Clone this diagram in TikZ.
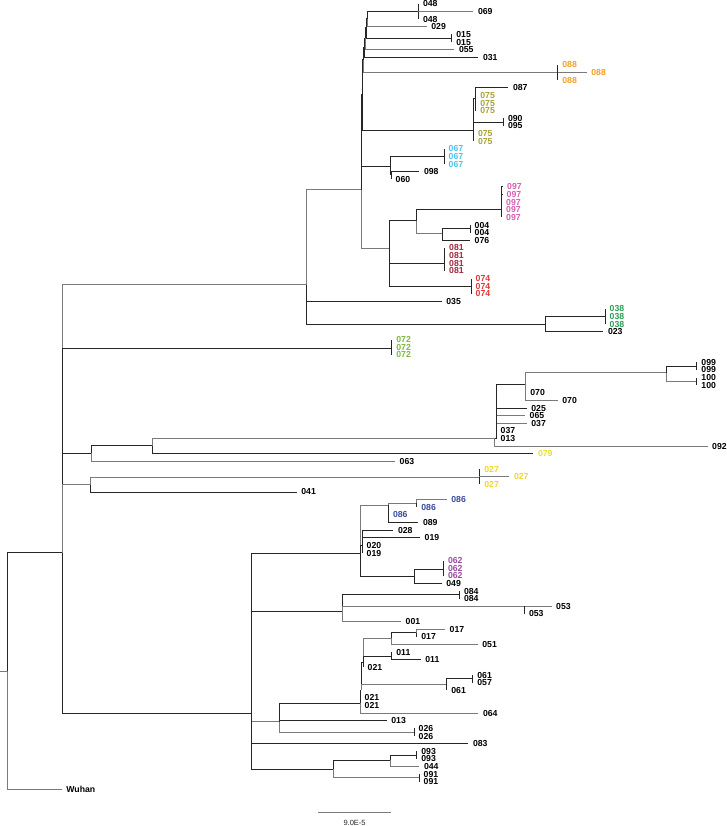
\documentclass[tikz,border=0pt]{standalone}
\usepackage{fontspec}
\setmainfont{Liberation Sans}
\definecolor{brc}{HTML}{262626}
\definecolor{brg}{HTML}{7A7A7A}
\definecolor{c088}{HTML}{F0A02A}
\definecolor{c075}{HTML}{A8A232}
\definecolor{c067}{HTML}{4CC3EA}
\definecolor{c097}{HTML}{D65FB4}
\definecolor{c081}{HTML}{A3283F}
\definecolor{c074}{HTML}{E0373A}
\definecolor{c038}{HTML}{2E9E55}
\definecolor{c072}{HTML}{7CBA3C}
\definecolor{c079}{HTML}{E8E02E}
\definecolor{c027}{HTML}{F2D52A}
\definecolor{c086}{HTML}{3B4A9C}
\definecolor{c062}{HTML}{9B4BA5}
\tikzset{
  br/.style={draw=brc, line width=1pt},
  gb/.style={draw=brg},
  lbl/.style={font=\fontsize{8.7}{9}\selectfont\bfseries, inner sep=0pt, anchor=west},
  sbl/.style={font=\fontsize{7.5}{8}\selectfont, text=brc, inner sep=0pt}
}
\newcommand{\tnode}[5][]{\coordinate (#2) at (#4,#5); \draw[br,#1] (#3) |- (#2);}
\newcommand{\tleaf}[6][]{\coordinate (#2) at (#4,#5); \draw[br,#1] (#3) |- (#2); \node[lbl,text=black] (#2t) at ([xshift=4.5pt]#2) {#6};}
\newcommand{\cleaf}[7][]{\coordinate (#3) at (#5,#6); \draw[br,#1] (#4) |- (#3); \node[lbl,text=#2] (#3t) at ([xshift=4.5pt]#3) {#7};}
\begin{document}
\begin{tikzpicture}[x=1pt,y=-1pt]
\useasboundingbox (0,0) rectangle (727,826);
% root
\coordinate (stem) at (0,671);
\coordinate (root) at (7.3,671);
\draw[br,gb] (stem) -- (root);
\tnode{M}{root}{62.7}{552.7}
\tleaf[gb]{k104}{root}{61.7}{789.4}{Wuhan}
% main clade children
\tnode[gb]{T}{M}{306.7}{284.7}
\tnode{n072}{M}{391.7}{348.3}
\tnode{G92}{M}{91.3}{453.3}
\tnode[gb]{G27}{M}{90}{484.7}
\tnode{L}{M}{251}{713.2}
% ---- top clade
\tnode[gb]{U}{T}{361.7}{190}
\tleaf{k40}{T}{441.7}{301.4}{035}
\tnode{n38}{T}{545.7}{324}
\tnode{n38a}{n38}{605}{316.6}
\cleaf{c038}{k41}{n38a}{605}{309.0}{038}
\cleaf{c038}{k42}{n38a}{605}{316.6}{038}
\cleaf{c038}{k43}{n38a}{605}{324.3}{038}
\tleaf{k44}{n38}{603.3}{331.9}{023}
\tnode{b}{U}{362.5}{95}
\tnode{a5}{b}{363.3}{60}
\tnode{a4}{a5}{364.3}{47.5}
\tnode{a3}{a4}{365}{38.5}
\tnode{a2}{a3}{366}{28}
\tnode{a1}{a2}{367}{19}
\tnode{n048}{a1}{418.3}{11.6}
\tleaf{k1}{n048}{418.3}{4.0}{048}
\tleaf[gb]{k2}{n048}{473.3}{11.6}{069}
\tleaf{k3}{n048}{418.3}{19.3}{048}
\tleaf[gb]{k4}{a1}{426.7}{26.9}{029}
\tnode{n015}{a2}{451.7}{38.3}
\tleaf{k5}{n015}{451.7}{34.5}{015}
\tleaf{k6}{n015}{451.7}{42.1}{015}
\tleaf[gb]{k7}{a3}{454.3}{49.8}{055}
\tleaf{k8}{a4}{478.3}{57.4}{031}
\tnode[gb]{n088}{a5}{557.7}{72.6}
\cleaf{c088}{k9}{n088}{557.7}{65.0}{088}
\cleaf[gb]{c088}{k10}{n088}{586.7}{72.6}{088}
\cleaf{c088}{k11}{n088}{557.7}{80.3}{088}
% 075 clade
\tnode{V}{b}{473.3}{131}
\tnode{v1}{V}{475.7}{99}
\tleaf{k12}{v1}{508.3}{87.9}{087}
\cleaf{c075}{k13}{v1}{475.7}{95.5}{075}
\cleaf{c075}{k14}{v1}{475.7}{103.1}{075}
\cleaf{c075}{k15}{v1}{475.7}{110.8}{075}
\tnode{n090}{V}{503.3}{122.2}
\tleaf{k16}{n090}{503.3}{118.4}{090}
\tleaf{k17}{n090}{503.3}{126.0}{095}
\cleaf{c075}{k18}{V}{473.3}{133.6}{075}
\cleaf{c075}{k19}{V}{473.3}{141.3}{075}
% 067 clade
\tnode{W}{U}{390}{166.3}
\tnode{n067}{W}{444}{157}
\cleaf{c067}{k20}{n067}{444}{148.9}{067}
\cleaf{c067}{k21}{n067}{444}{156.5}{067}
\cleaf{c067}{k22}{n067}{444}{164.1}{067}
\tnode{w2}{W}{391}{175}
\tleaf{k23}{w2}{419.3}{171.8}{098}
\tleaf{k24}{w2}{391}{179.4}{060}
% 097 / 081 / 074 clade
\tnode[gb]{X}{U}{389.3}{248.3}
\tnode{x1}{X}{416}{221}
\tnode{n097}{x1}{501.5}{209.3}
\cleaf{c097}{k25}{n097}{502.5}{187.0}{097}
\cleaf{c097}{k26}{n097}{502}{194.6}{097}
\cleaf{c097}{k27}{n097}{501.5}{202.3}{097}
\cleaf{c097}{k28}{n097}{501.5}{209.9}{097}
\cleaf{c097}{k29}{n097}{501.5}{217.5}{097}
\tnode[gb]{x1b}{x1}{442.7}{233.3}
\tnode{n004}{x1b}{470}{228.5}
\tleaf{k30}{n004}{470}{225.1}{004}
\tleaf{k31}{n004}{470}{232.8}{004}
\tleaf{k32}{x1b}{470}{240.4}{076}
\tnode{n081}{X}{444.5}{263.3}
\cleaf{c081}{k33}{n081}{444.5}{248.0}{081}
\cleaf{c081}{k34}{n081}{444.5}{255.6}{081}
\cleaf{c081}{k35}{n081}{444.5}{263.3}{081}
\cleaf{c081}{k36}{n081}{444.5}{270.9}{081}
\tnode{n074}{X}{471}{286.7}
\cleaf{c074}{k37}{n074}{471}{278.5}{074}
\cleaf{c074}{k38}{n074}{471}{286.1}{074}
\cleaf{c074}{k39}{n074}{471}{293.8}{074}
% 072
\cleaf{c072}{k45}{n072}{391.7}{339.5}{072}
\cleaf{c072}{k46}{n072}{391.7}{347.1}{072}
\cleaf{c072}{k47}{n072}{391.7}{354.8}{072}
% ---- 092 group
\tnode{H}{G92}{152.3}{445.7}
\tleaf[gb]{k61}{G92}{395}{461.5}{063}
\tnode[gb]{A}{H}{494.7}{438.6}
\cleaf{c079}{k60}{H}{533.3}{453.9}{079}
\tleaf[gb]{k59}{A}{707.5}{446.3}{092}
\tnode{B}{A}{496}{438.6}
\tleaf{k58}{B}{496}{438.6}{013}
\tleaf{k57}{B}{496}{431.0}{037}
\tleaf[gb]{k56}{B}{526.7}{423.4}{037}
\tleaf[gb]{k55}{B}{525}{415.8}{065}
\tleaf{k54}{B}{526.7}{408.1}{025}
\tnode{E}{B}{525.7}{384.3}
\tleaf{k52}{E}{525.7}{392.9}{070}
\tleaf[gb]{k53}{E}{557.7}{400.5}{070}
\tnode[gb]{F}{E}{666.7}{372.7}
\tnode{n099}{F}{696.7}{366.2}
\tleaf{k48}{n099}{696.7}{362.4}{099}
\tleaf{k49}{n099}{696.7}{370.0}{099}
\tnode[gb]{n100}{F}{696.7}{381.5}
\tleaf{k50}{n100}{696.7}{377.6}{100}
\tleaf{k51}{n100}{696.7}{385.3}{100}
% ---- 027 / 041
\tnode[gb]{n027}{G27}{479.7}{477}
\cleaf{c027}{k62}{n027}{479.7}{469.1}{027}
\cleaf[gb]{c027}{k63}{n027}{509.3}{476.8}{027}
\cleaf{c027}{k64}{n027}{479.7}{484.4}{027}
\tleaf{k65}{G27}{296.7}{492.0}{041}
% ---- lower clade
\tnode{P}{L}{360}{553.3}
\tnode[gb]{p1}{P}{388.3}{505}
\tnode[gb]{p1a}{p1}{416.7}{503}
\cleaf[gb]{c086}{k66}{p1a}{446.7}{499.6}{086}
\cleaf{c086}{k67}{p1a}{416.7}{507.3}{086}
\cleaf{c086}{k68}{p1}{388.3}{514.9}{086}
\tleaf{k69}{p1}{418.3}{522.5}{089}
\tnode{Pb}{P}{362}{545.4}
\tleaf{k70}{Pb}{393.3}{530.1}{028}
\tleaf{k71}{Pb}{420}{537.8}{019}
\tleaf{k72}{Pb}{362}{545.4}{020}
\tleaf{k73}{Pb}{362}{553.0}{019}
\tnode{p2}{P}{414}{576.7}
\tnode{n062}{p2}{443.3}{569.3}
\cleaf{c062}{k74}{n062}{443.3}{560.6}{062}
\cleaf{c062}{k75}{n062}{443.3}{568.3}{062}
\cleaf{c062}{k76}{n062}{443.3}{575.9}{062}
\tleaf{k77}{p2}{441.7}{583.5}{049}
\tnode{Q}{L}{342.7}{611}
\tnode{n084}{Q}{459.3}{594.9}
\tleaf{k78}{n084}{459.3}{591.1}{084}
\tleaf{k79}{n084}{459.3}{598.8}{084}
\tnode[gb]{n053}{Q}{524.3}{606.4}
\tleaf[gb]{k80}{n053}{551.5}{606.4}{053}
\tleaf{k81}{n053}{524.3}{614.0}{053}
\tleaf[gb]{k82}{Q}{401}{621.6}{001}
\tnode[gb]{R}{L}{279}{721.7}
\tnode{R1}{R}{360}{703.3}
\tnode{R1b}{R1}{361}{690}
\tnode{R1c}{R1b}{363}{662}
\tnode[gb]{ra}{R1c}{391.3}{638.3}
\tnode{n017}{ra}{416.7}{632.7}
\tleaf[gb]{k83}{n017}{445}{629.3}{017}
\tleaf{k84}{n017}{416.7}{636.9}{017}
\tleaf[gb]{k85}{ra}{477.7}{644.5}{051}
\tnode{n011}{R1c}{391.7}{656}
\tleaf{k86}{n011}{391.7}{652.1}{011}
\tleaf{k87}{n011}{420.7}{659.8}{011}
\tleaf{k88}{R1c}{363}{667.4}{021}
\tnode[gb]{n061}{R1b}{446.7}{684.3}
\tnode{n061b}{n061}{472.7}{678.5}
\tleaf{k89}{n061b}{472.7}{675.0}{061}
\tleaf{k90}{n061b}{472.7}{682.6}{057}
\tleaf{k91}{n061}{446.7}{690.3}{061}
\tleaf{k92}{R1}{360}{697.9}{021}
\tleaf{k93}{R1}{360}{705.5}{021}
\tleaf[gb]{k94}{R1}{478.3}{713.1}{064}
\tleaf{k95}{R}{386.7}{720.8}{013}
\tnode[gb]{n026}{R}{414}{732}
\tleaf{k96}{n026}{414}{728.4}{026}
\tleaf{k97}{n026}{414}{736.0}{026}
\tleaf{k98}{L}{468.3}{743.6}{083}
\tnode{S}{L}{333.3}{769}
\tnode{s1}{S}{390}{760}
\tnode{n093}{s1}{416.7}{755}
\tleaf{k99}{n093}{416.7}{751.3}{093}
\tleaf{k100}{n093}{416.7}{758.9}{093}
\tleaf[gb]{k101}{s1}{419.3}{766.5}{044}
\tnode[gb]{n091}{S}{419}{777.7}
\tleaf{k102}{n091}{419}{774.1}{091}
\tleaf{k103}{n091}{419}{781.8}{091}
% scale bar
\coordinate (sb1) at (318.3,812.7);
\coordinate (sb2) at (391,812.7);
\draw[br,gb] (sb1) -- (sb2);
\node[sbl] (sbt) at (354.6,822.7) {9.0E-5};
\end{tikzpicture}
\end{document}
